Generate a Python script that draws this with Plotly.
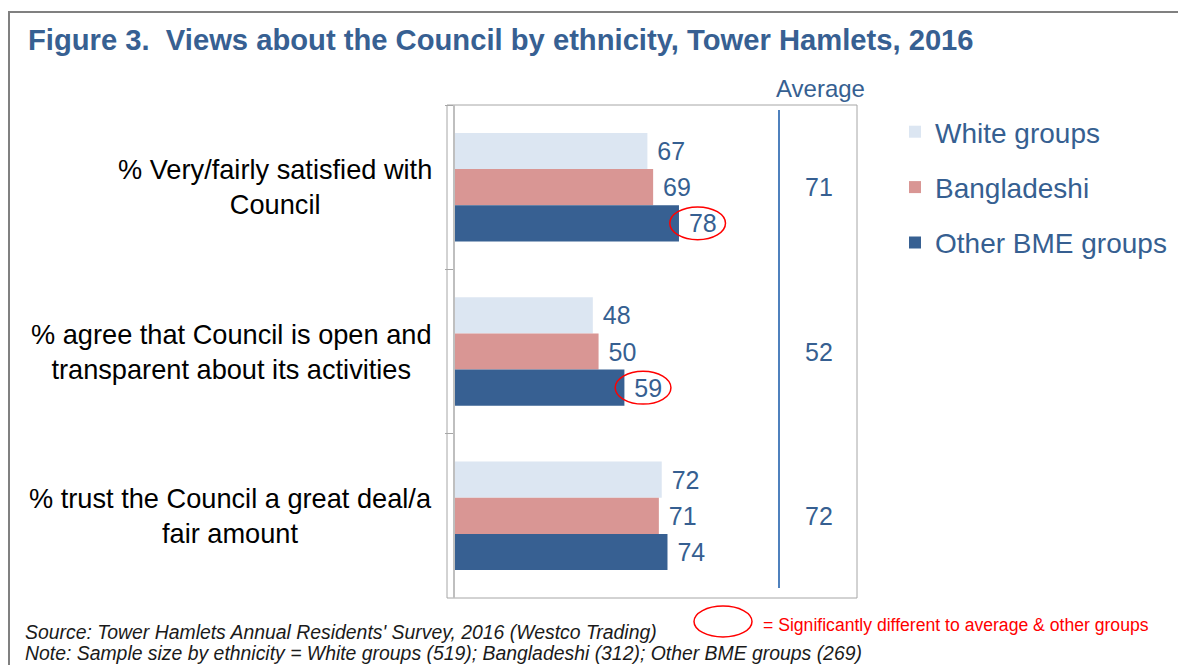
import plotly.graph_objects as go

# --- data -------------------------------------------------------------
categories = [
    "% Very/fairly satisfied with<br>Council",
    "% agree that Council is open and<br>transparent about its activities",
    "% trust the Council a great deal/a<br>fair amount",
]
series_names = ["White groups", "Bangladeshi", "Other BME groups"]
white_groups = [67, 48, 72]
bangladeshi = [69, 50, 71]
other_bme = [78, 59, 74]
average = [71, 52, 72]
# Other BME result significantly different to average & other groups
other_bme_significant = [True, True, False]

title_text = "Figure 3.\u00a0\u00a0Views about the Council by ethnicity, Tower Hamlets, 2016"
source_note = "Source: Tower Hamlets Annual Residents' Survey, 2016 (Westco Trading)"
sample_note = ("Note: Sample size by ethnicity = White groups (519); "
               "Bangladeshi (312); Other BME groups (269)")
sig_label = "= Significantly different to average & other groups"

# --- styling ----------------------------------------------------------
W, H = 1178, 665
FONT = "Liberation Sans, Arial, sans-serif"
BLUE_TEXT = "#365F91"
colors = ["#DCE6F2", "#D99694", "#376092"]
BARGAP = 0.34


def px(x):
    return x / W


def py(y):
    return 1 - y / H


fig = go.Figure()
for name, vals, col in zip(series_names, [white_groups, bangladeshi, other_bme], colors):
    fig.add_trace(go.Bar(
        y=categories, x=vals, name=name, orientation="h",
        marker=dict(color=col, line=dict(width=0)),
        texttemplate="\u00a0%{x}", textposition="outside",
        textfont=dict(family=FONT, size=25, color=BLUE_TEXT),
        constraintext="none", cliponaxis=False,
        legendgroup=name, hoverinfo="x+name",
    ))

annotations = []
shapes = []

# category labels, centred lines, right-aligned block
for i, cat in enumerate(categories):
    annotations.append(dict(
        text=cat, xref="paper", yref="y", x=px(434), y=i,
        xanchor="right", yanchor="middle", align="center", showarrow=False,
        font=dict(family=FONT, size=27.2, color="#000000"),
    ))

# average column
annotations.append(dict(
    text="Average", xref="paper", yref="paper", x=px(820), y=py(88),
    xanchor="center", yanchor="middle", showarrow=False,
    font=dict(family=FONT, size=24, color=BLUE_TEXT),
))
for i, v in enumerate(average):
    annotations.append(dict(
        text=str(v), xref="paper", yref="y", x=px(819), y=i,
        xanchor="center", yanchor="middle", showarrow=False,
        font=dict(family=FONT, size=25, color=BLUE_TEXT),
    ))
shapes.append(dict(type="line", xref="paper", yref="paper",
                   x0=px(779), x1=px(779), y0=py(110), y1=py(588),
                   line=dict(color="#4F81BD", width=2)))

# significance ellipses around Other BME labels
bar_w = (1 - BARGAP) / 3
for i, (v, sig) in enumerate(zip(other_bme, other_bme_significant)):
    if sig:
        yc = i + bar_w
        shapes.append(dict(type="circle", xref="x", yref="y",
                           x0=v - 3.2, x1=v + 16.2, y0=yc - 0.1, y1=yc + 0.1,
                           line=dict(color="#FF0000", width=1.5)))

# plot-area frame and outer chart frame
shapes.append(dict(type="rect", xref="paper", yref="paper", layer="below",
                   x0=px(447), x1=px(857), y0=py(598), y1=py(105),
                   line=dict(color="#A6A6A6", width=1)))
shapes.append(dict(type="rect", xref="paper", yref="paper",
                   x0=px(9), x1=px(1190), y0=py(680), y1=py(12),
                   line=dict(color="#808080", width=2)))

# title
annotations.append(dict(
    text="<b>" + title_text + "</b>", xref="paper", yref="paper",
    x=px(26), y=py(40), xanchor="left", yanchor="middle", showarrow=False,
    font=dict(family=FONT, size=29.2, color="#376092"),
))

# footer notes
for text, y in [(source_note, 632), (sample_note, 653)]:
    annotations.append(dict(
        text="<i>" + text + "</i>", xref="paper", yref="paper",
        x=px(23), y=py(y), xanchor="left", yanchor="middle", showarrow=False,
        font=dict(family=FONT, size=19.4, color="#1A1A1A"),
    ))

# significance key
shapes.append(dict(type="circle", xref="paper", yref="paper",
                   x0=px(694), x1=px(752), y0=py(637), y1=py(606),
                   line=dict(color="#FF0000", width=1.5)))
annotations.append(dict(
    text=sig_label, xref="paper", yref="paper", x=px(761), y=py(625),
    xanchor="left", yanchor="middle", showarrow=False,
    font=dict(family=FONT, size=17.6, color="#FF0000"),
))

fig.update_layout(
    width=W, height=H,
    margin=dict(l=0, r=0, t=0, b=0),
    paper_bgcolor="white", plot_bgcolor="white",
    barmode="group", bargap=BARGAP, bargroupgap=0,
    font=dict(family=FONT),
    showlegend=True,
    legend=dict(
        x=px(895), y=py(107), xanchor="left", yanchor="top",
        font=dict(family=FONT, size=28, color=BLUE_TEXT),
        traceorder="grouped", tracegroupgap=16,
        bgcolor="rgba(0,0,0,0)", borderwidth=0,
    ),
    xaxis=dict(domain=[px(455), px(857)], range=[0, 140], visible=False,
               fixedrange=True),
    yaxis=dict(domain=[py(598), py(105)], type="category",
               categoryorder="array", categoryarray=categories,
               range=[2.5, -0.5], showline=True, linecolor="#BFBFBF",
               linewidth=2, ticks="outside", ticklen=8, tickcolor="#A6A6A6",
               tickwidth=1, tickson="boundaries", showticklabels=False,
               showgrid=False, zeroline=False, fixedrange=True),
    annotations=annotations,
    shapes=shapes,
)

fig.write_html("out.html")
